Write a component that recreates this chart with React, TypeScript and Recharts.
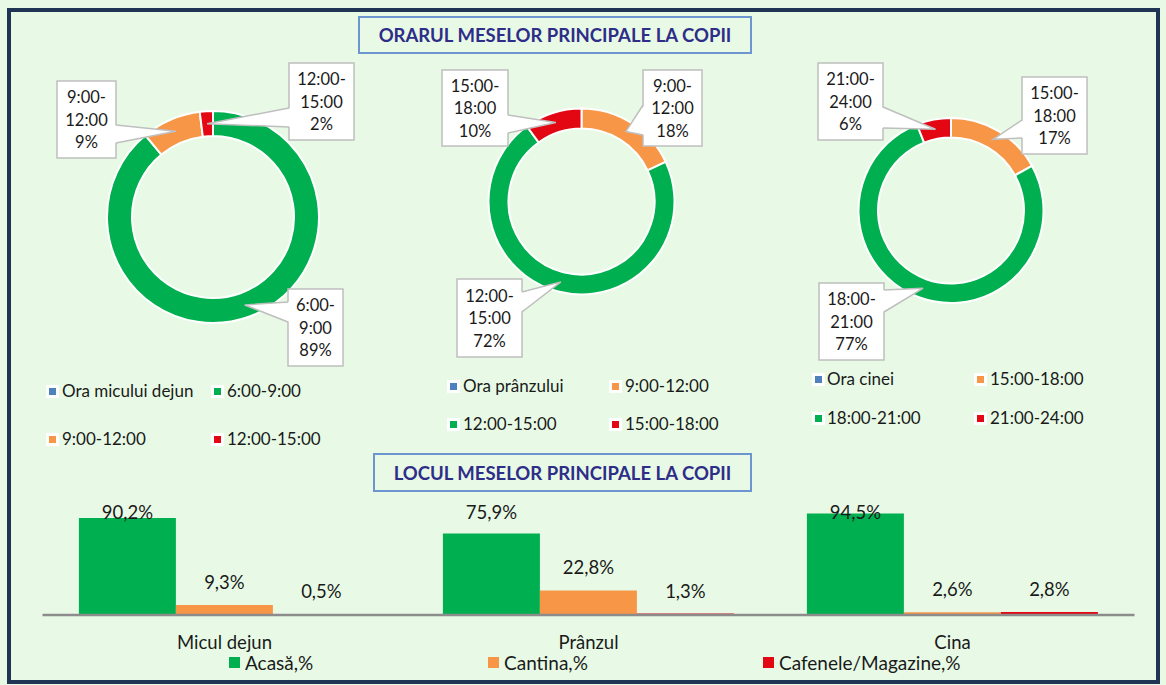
import React from 'react';
import { PieChart, Pie, Cell, BarChart, Bar, XAxis, YAxis, LabelList } from 'recharts';

// ---- data ----
const breakfastSlots = ['6:00-9:00', '9:00-12:00', '12:00-15:00'];
const breakfastShares = [89, 9, 2];
const lunchSlots = ['9:00-12:00', '12:00-15:00', '15:00-18:00'];
const lunchShares = [18, 72, 10];
const dinnerSlots = ['15:00-18:00', '18:00-21:00', '21:00-24:00'];
const dinnerShares = [17, 77, 6];

const meals = ['Micul dejun', 'Prânzul', 'Cina'];
const homeShare = [90.2, 75.9, 94.5];
const canteenShare = [9.3, 22.8, 2.6];
const cafeShare = [0.5, 1.3, 2.8];
const placeNames = ['Acasă,%', 'Cantina,%', 'Cafenele/Magazine,%'];

// ---- styles ----
const FONT = 'Lato, "Open Sans", sans-serif';
const BG = '#e8fae6';
const GREEN = '#00b050';
const ORANGE = '#f79646';
const RED = '#e30613';
const BLUE = '#4f81bd';
const TEXT = '#1a1a1a';
const CALLOUT_BORDER = '#bfbfbf';

type Box = { x: number; y: number; w: number; h: number; side: 'left' | 'right'; b1: number; b2: number };

// callout boxes, relative to the donut centre
const donuts = [
  {
    header: 'Ora micului dejun',
    slots: breakfastSlots,
    shares: breakfastShares,
    colors: [GREEN, ORANGE, RED],
    left: 20, cx: 188, cy: 172, outer: 106, inner: 81,
    boxes: [
      { x: 75, y: 72, w: 55, h: 77, side: 'left', b1: 85, b2: 105 },
      { x: -156, y: -136, w: 59, h: 77, side: 'right', b1: -92, b2: -74 },
      { x: 76, y: -154, w: 65, h: 77, side: 'left', b1: -109, b2: -90 },
    ] as Box[],
    legend: { rows: [391, 439], markers: [46, 211], texts: [62, 227] },
  },
  {
    header: 'Ora prânzului',
    slots: lunchSlots,
    shares: lunchShares,
    colors: [ORANGE, GREEN, RED],
    left: 390, cx: 186.5, cy: 156.5, outer: 93, inner: 73,
    boxes: [
      { x: 61.5, y: -131.5, w: 59, h: 76, side: 'left', b1: -96.5, b2: -66.5 },
      { x: -124.5, y: 77.5, w: 65, h: 78, side: 'right', b1: 90.5, b2: 110.5 },
      { x: -139.5, y: -131.5, w: 66, h: 76, side: 'right', b1: -86.5, b2: -68.5 },
    ] as Box[],
    legend: { rows: [386, 424], markers: [447, 609], texts: [463, 625] },
  },
  {
    header: 'Ora cinei',
    slots: dinnerSlots,
    shares: dinnerShares,
    colors: [ORANGE, GREEN, RED],
    left: 770, cx: 176, cy: 165.5, outer: 92.5, inner: 73,
    boxes: [
      { x: 71, y: -133.5, w: 65, h: 77, side: 'left', b1: -90.5, b2: -72.5 },
      { x: -132, y: 72.5, w: 65, h: 77, side: 'right', b1: 79.5, b2: 101.5 },
      { x: -133, y: -147.5, w: 65, h: 77, side: 'right', b1: -103.5, b2: -82.5 },
    ] as Box[],
    legend: { rows: [379, 418], markers: [812, 974], texts: [827, 990] },
  },
];

const RAD = Math.PI / 180;

function Callout(props: any) {
  const { midAngle, innerRadius, outerRadius, box, name, share } = props;
  const cx = Number(props.cx);
  const cy = Number(props.cy);
  const r = (innerRadius + outerRadius) / 2;
  const tx = cx + r * Math.cos(-midAngle * RAD);
  const ty = cy + r * Math.sin(-midAngle * RAD);
  const x = cx + box.x;
  const y = cy + box.y;
  const ex = box.side === 'left' ? x : x + box.w;
  const inset = box.side === 'left' ? 1.5 : -1.5;
  const y1 = cy + box.b1;
  const y2 = cy + box.b2;
  const [from, to] = String(name).split('-');
  const mid = x + box.w / 2;
  const c = y + box.h / 2;
  return (
    <g>
      <rect x={x} y={y} width={box.w} height={box.h} fill="#fff" stroke={CALLOUT_BORDER} strokeWidth={1.5} />
      <polygon points={`${ex + inset},${y1} ${tx},${ty} ${ex + inset},${y2}`} fill="#fff" />
      <polyline points={`${ex},${y1} ${tx},${ty} ${ex},${y2}`} fill="none" stroke={CALLOUT_BORDER} strokeWidth={1.5} />
      <g fontFamily={FONT} fontSize={16.5} fill={TEXT} textAnchor="middle" dominantBaseline="central">
        <text x={mid} y={c - 22.5}>{from}-</text>
        <text x={mid} y={c}>{to}</text>
        <text x={mid} y={c + 22.5}>{share}%</text>
      </g>
    </g>
  );
}

function LegendEntry({ color, label, markerX, textX, y }: any) {
  return (
    <>
      <div style={{ position: 'absolute', left: markerX, top: y - 6.5, width: 13, height: 13, background: '#fff' }}>
        <div style={{ position: 'absolute', left: 3, top: 3, width: 7, height: 7, background: color }} />
      </div>
      <div style={{ position: 'absolute', left: textX, top: y - 11, lineHeight: '22px', fontSize: 17, color: TEXT, whiteSpace: 'nowrap' }}>
        {label}
      </div>
    </>
  );
}

function Donut({ d }: { d: (typeof donuts)[number] }) {
  const data = d.slots.map((s, i) => ({ name: s, value: d.shares[i] }));
  return (
    <div style={{ position: 'absolute', left: d.left, top: 40 }}>
      <PieChart width={380} height={340}>
        <Pie
          data={data}
          dataKey="value"
          nameKey="name"
          cx={d.cx}
          cy={d.cy}
          innerRadius={d.inner}
          outerRadius={d.outer}
          startAngle={90}
          endAngle={-270}
          stroke="#fff"
          strokeWidth={2}
          isAnimationActive={false}
          labelLine={false}
          label={(p: any) => (
            <Callout
              {...p}
              cx={p.cx ?? d.cx}
              cy={p.cy ?? d.cy}
              box={d.boxes[p.index]}
              name={d.slots[p.index]}
              share={d.shares[p.index]}
            />
          )}
        >
          {d.colors.map((c, i) => (
            <Cell key={i} fill={c} />
          ))}
        </Pie>
      </PieChart>
    </div>
  );
}

function DonutLegend({ d }: { d: (typeof donuts)[number] }) {
  const items = [{ label: d.header, color: BLUE }, ...d.slots.map((s, i) => ({ label: s, color: d.colors[i] }))];
  return (
    <>
      {items.map((it, i) => (
        <LegendEntry
          key={i}
          color={it.color}
          label={it.label}
          markerX={d.legend.markers[i % 2]}
          textX={d.legend.texts[i % 2]}
          y={d.legend.rows[Math.floor(i / 2)]}
        />
      ))}
    </>
  );
}

const BAR_TOP = 495;
const barData = meals.map((m, i) => ({ meal: m, home: homeShare[i], canteen: canteenShare[i], cafe: cafeShare[i] }));

function renderBarLabel(p: any) {
  const x = Number(p.x);
  const w = Number(p.width);
  const y = Number(p.y);
  const ly = Math.max(y - 23, 512 - BAR_TOP);
  return (
    <text x={x + w / 2} y={ly} textAnchor="middle" dominantBaseline="central" fontFamily={FONT} fontSize={18.5} fill={TEXT}>
      {Number(p.value).toFixed(1).replace('.', ',')}%
    </text>
  );
}

function MealTick(p: any) {
  return (
    <text x={p.x} y={642 - BAR_TOP} textAnchor="middle" dominantBaseline="central" fontFamily={FONT} fontSize={18.5} fill={TEXT}>
      {p.payload.value}
    </text>
  );
}

const titleStyle: React.CSSProperties = {
  position: 'absolute',
  border: '2px solid #6d95cf',
  boxSizing: 'border-box',
  display: 'flex',
  alignItems: 'center',
  justifyContent: 'center',
  fontWeight: 700,
  fontSize: 18.5,
  color: '#2e2d88',
};

export default function App() {
  const placeColors = [GREEN, ORANGE, RED];
  const placeMarkers = [229, 488, 763];
  return (
    <div style={{ position: 'absolute', left: 0, top: 0, width: 1166, height: 685, background: BG, fontFamily: FONT, overflow: 'hidden' }}>
      <div style={{ position: 'absolute', left: 7, top: 8, width: 1153, height: 676, border: '4px solid #1f3553', boxSizing: 'border-box' }} />

      <div style={{ ...titleStyle, left: 358, top: 16, width: 394, height: 38 }}>ORARUL MESELOR PRINCIPALE LA COPII</div>

      {donuts.map((d, i) => (
        <Donut key={i} d={d} />
      ))}
      {donuts.map((d, i) => (
        <DonutLegend key={i} d={d} />
      ))}

      <div style={{ ...titleStyle, left: 373, top: 453, width: 379, height: 39 }}>LOCUL MESELOR PRINCIPALE LA COPII</div>

      <div style={{ position: 'absolute', left: 0, top: BAR_TOP }}>
        <BarChart
          width={1166}
          height={185}
          data={barData}
          margin={{ top: 12.5, right: 31.5, bottom: 25, left: 42.5 }}
          barCategoryGap="10%"
          barGap={0}
        >
          <XAxis
            dataKey="meal"
            height={40}
            interval={0}
            tickLine={false}
            axisLine={{ stroke: '#8c8c8c', strokeWidth: 2.5 }}
            tick={<MealTick />}
          />
          <YAxis hide domain={[0, 100]} />
          <Bar dataKey="home" fill={GREEN} isAnimationActive={false}>
            <LabelList dataKey="home" content={renderBarLabel} />
          </Bar>
          <Bar dataKey="canteen" fill={ORANGE} isAnimationActive={false}>
            <LabelList dataKey="canteen" content={renderBarLabel} />
          </Bar>
          <Bar dataKey="cafe" fill={RED} isAnimationActive={false}>
            <LabelList dataKey="cafe" content={renderBarLabel} />
          </Bar>
        </BarChart>
      </div>

      {placeNames.map((n, i) => (
        <React.Fragment key={n}>
          <div style={{ position: 'absolute', left: placeMarkers[i], top: 657, width: 11, height: 11, background: placeColors[i] }} />
          <div style={{ position: 'absolute', left: placeMarkers[i] + 16, top: 651, lineHeight: '24px', fontSize: 19, color: TEXT, whiteSpace: 'nowrap' }}>
            {n}
          </div>
        </React.Fragment>
      ))}
    </div>
  );
}
